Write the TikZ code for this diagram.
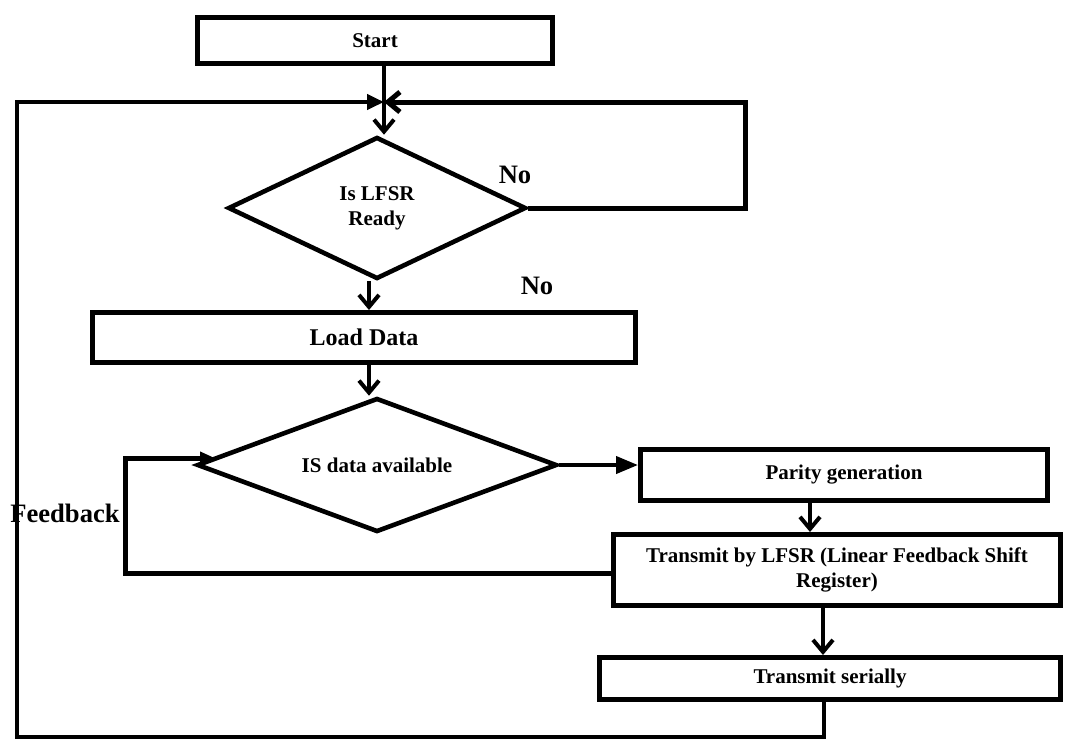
\documentclass[tikz,border=0pt]{standalone}
\usepackage{fontspec}
\setmainfont{Liberation Serif}
\usetikzlibrary{shapes.geometric,arrows.meta}
\begin{document}
\begin{tikzpicture}[x=0.5pt,y=-0.5pt,
  box/.style={draw,line width=2.5pt,rectangle,inner sep=0pt,align=center,
    font=\bfseries\fontsize{10.5}{12.5}\selectfont},
  dia/.style={draw,line width=2.3pt,diamond,inner sep=0pt,align=center,
    font=\bfseries\fontsize{10.5}{12.5}\selectfont},
  lbl/.style={inner sep=0pt,font=\bfseries\fontsize{13.3}{15}\selectfont},
  conn/.style={line width=2pt},
  vhead/.style={-{Straight Barb[length=6pt,width=10pt]}},
  fhead/.style={-{Triangle[length=8.5pt,width=7.5pt]}},
  fheadb/.style={-{Triangle[length=11pt,width=8.5pt]}},
  fheadc/.style={-{Triangle[length=7.5pt,width=6pt]}}]
\useasboundingbox (0,0) rectangle (1068,741);

% labels (drawn first so lines overlay them)
\node[lbl] (fb) at (65,513) {Feedback};
\node[lbl] (no1) at (515,175) {No};
\node[lbl] (no2) at (537,286) {No};

% nodes
\node[box,minimum width=177.5pt,minimum height=23pt] (start) at (375,40.5) {Start};
\node[dia,aspect=2.1,minimum width=149pt,minimum height=71pt] (d1) at (377,208) {Is LFSR\\Ready};
\node[box,minimum width=271.5pt,minimum height=25pt,font=\bfseries\fontsize{12}{14}\selectfont] (load) at (364,337.5) {Load Data};
\node[dia,aspect=2.7,minimum width=180pt,minimum height=67pt] (d2) at (377,465) {IS data available};
\node[box,minimum width=203.5pt,minimum height=25.5pt] (parity) at (844,475) {Parity generation};
\node[box,minimum width=223.5pt,minimum height=35.5pt] (lfsr) at (837,570) {Transmit by LFSR (Linear Feedback Shift\\Register)};
\node[box,minimum width=230.5pt,minimum height=21pt] (serial) at (830,678.5) {Transmit serially};

% coordinates
\coordinate (J) at (384,102);
\coordinate (R1) at (745,208);
\coordinate (R2) at (745,102);
\coordinate (B1) at (824,737);
\coordinate (B2) at (17,737);
\coordinate (B3) at (17,102);
\coordinate (A1) at (369,0);
\coordinate (A2) at (810,0);
\coordinate (A3) at (823,0);
\coordinate (F1) at (125,573);
\coordinate (F2) at (125,458);
\coordinate (F3) at (215,458);

% connectors
\draw[conn] (start.south -| J) -- (J);
\draw[conn,vhead] (J) -- (J |- d1.north);
\draw[conn,line width=2.5pt,vhead] (d1.east) -- (R1) -- (R2) -- (J);
\draw[conn,fhead] (B1 |- serial.south) -- (B1) -- (B2) -- (B3) -- (J);
\draw[conn,vhead] (A1 |- d1.south) -- (A1 |- load.north);
\draw[conn,vhead] (A1 |- load.south) -- (A1 |- d2.north);
\draw[conn,fheadb] (d2.east) -- (d2.east -| parity.west);
\draw[conn,vhead] (A2 |- parity.south) -- (A2 |- lfsr.north);
\draw[conn,vhead] (A3 |- lfsr.south) -- (A3 |- serial.north);
\draw[conn,line width=2.5pt,fheadc] (lfsr.west |- F1) -- (F1) -- (F2) -- (F3);
\end{tikzpicture}
\end{document}
